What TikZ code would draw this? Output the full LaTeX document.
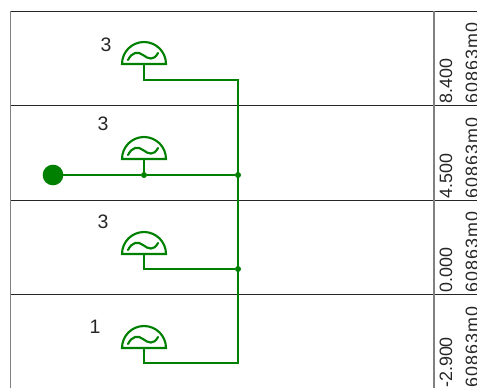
\documentclass[tikz,border=0pt]{standalone}
\usepackage{fontspec}
\setmainfont{Liberation Sans}
\usetikzlibrary{positioning}
\usetikzlibrary{calc}
\definecolor{busgreen}{RGB}{0,128,0}
\tikzset{grid line/.style={draw,black!85,line width=.6pt}}
\tikzset{edge/.style={draw,busgreen,line width=1.6pt}}
\tikzset{side text/.style={rotate=90,anchor=base west,inner sep=0pt,font=\fontsize{13.4}{13.4}\selectfont,text=black!85}}
\tikzset{count text/.style={inner sep=0pt,font=\fontsize{14.6}{14.6}\selectfont,text=black!85}}
\tikzset{junction/.style={circle,fill=busgreen,minimum size=4.5pt,inner sep=0pt,outer sep=0pt}}
\tikzset{source/.style={circle,fill=busgreen,minimum size=15.5pt,inner sep=0pt,outer sep=0pt}}
\tikzset{gen symbol/.pic={
    \draw[edge] (-22,0) arc (180:360:22) -- cycle;
    \draw[edge,line cap=round] (-16,-4) .. controls (-12,-12) and (-6,-13) .. (-1,-9) .. controls (4,-5) and (10,-3) .. (14,-11);
}}
\begin{document}
\begin{tikzpicture}[x=.75pt,y=-.75pt]
    \useasboundingbox (0,0) rectangle (477,388);

    % bands
    \draw[grid line] (10.5,105) -- (477,105);
    \draw[grid line] (10.5,200) -- (477,200);
    \draw[grid line] (10.5,294) -- (477,294);
    \draw[grid line] (10.5,11) -- (477,11);
    \draw[black!50,line width=.8pt] (10.5,11) -- (10.5,388);
    \draw[black!50,line width=.8pt] (434,11) -- (434,388);

    % right column
    \foreach \y/\v/\n in {104/8.400/a,199/4.500/b,293/0.000/c,388/-2.900/d} {
      \node [side text] (val\n) at (452,\y) {\v};
      \node [side text] (code\n) at (478,\y) {\addfontfeature{LetterSpace=6}60863m0};
    }

    % generators
    \foreach \y/\l/\xl/\yl/\n in {64/3/106/45/a,159/3/103/124/b,254/3/103/222/c,348/1/95/327/d} {
      \coordinate (gen\n) at (144,\y);
      \pic at (gen\n) {gen symbol};
      \node [count text] (cnt\n) at (\xl,\yl) {\l};
    }

    % bus
    \node [source] (src) at (53,175) {};
    \node [junction] (jb) at (144,175) {};
    \node [junction] (j1) at (238,175) {};
    \node [junction] (j2) at (238,269) {};
    \coordinate (topa) at (238,80);
    \coordinate (botd) at (238,363);
    \draw [edge] (gena) |- (topa) -- (botd) -| (gend);
    \draw [edge] (src) -- (jb) -- (j1);
    \draw [edge] (genb) -- (jb);
    \draw [edge] (genc) |- (j2);
\end{tikzpicture}
\end{document}
